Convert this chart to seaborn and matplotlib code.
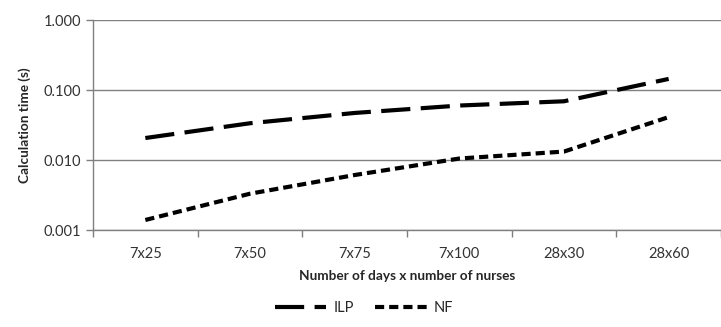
import matplotlib
matplotlib.use("Agg")
import matplotlib.pyplot as plt
import seaborn as sns
import pandas as pd
import numpy as np

categories = ["7x25", "7x50", "7x75", "7x100", "28x30", "28x60"]
ilp = [0.0206, 0.0335, 0.047, 0.060, 0.069, 0.144]
nf = [0.00139, 0.0033, 0.0061, 0.0105, 0.0132, 0.041]

sns.set_theme(style="white")
plt.rcParams['font.family'] = ['Lato', 'DejaVu Sans']

df = pd.DataFrame({
    "x": list(range(len(categories))) * 2,
    "value": ilp + nf,
    "series": ["ILP"] * len(ilp) + ["NF"] * len(nf),
})

fig = plt.figure(figsize=(7.21, 3.27), dpi=100)
ax = fig.add_axes([93/721, 1-230/327, 1-93/721, 210/327])

sns.lineplot(data=df, x="x", y="value", hue="series", style="series",
             palette={"ILP": "black", "NF": "black"},
             dashes={"ILP": (7, 2.5), "NF": (2.2, 1.2)},
             linewidth=3, ax=ax, legend=False)

ax.set_yscale("log")
ax.set_ylim(0.001, 1.0)
ax.set_xlim(-0.5, 5.5)
ax.set_yticks([0.001, 0.01, 0.1, 1.0])
ax.set_yticklabels(["0.001", "0.010", "0.100", "1.000"])
ax.yaxis.set_minor_locator(matplotlib.ticker.NullLocator())
ax.set_xticks(range(len(categories)))
ax.set_xticklabels(categories)
ax.set_xticks(np.arange(-0.5, 5.6, 1.0), minor=True)
ax.tick_params(axis="x", which="major", length=0, pad=12, labelsize=10.5, colors="#333333")
ax.tick_params(axis="x", which="minor", length=5, width=1, color="#7f7f7f", direction="out", bottom=True)
ax.tick_params(axis="y", which="major", length=5, width=1, color="#7f7f7f", direction="out", left=True, labelsize=10.5, colors="#333333")
ax.grid(axis="y", color="#808080", linewidth=1)
ax.set_axisbelow(True)
for s in ["top", "right"]:
    ax.spines[s].set_visible(False)
for s in ["left", "bottom"]:
    ax.spines[s].set_color("#808080")
    ax.spines[s].set_linewidth(1)

ax.set_xlabel("Number of days x number of nurses", fontsize=9.8, fontweight="bold", labelpad=7)
ax.set_ylabel("Calculation time (s)", fontsize=9.8, fontweight="bold", labelpad=9)

from matplotlib.lines import Line2D
handles = [Line2D([], [], color="black", lw=3, dashes=(7, 2.5)),
           Line2D([], [], color="black", lw=3, dashes=(2.2, 1.2))]
fig.legend(handles, ["ILP", "NF"], loc="center", bbox_to_anchor=(0.505, 1-308/327),
           ncol=2, frameon=False, fontsize=10.5, handlelength=3.5, columnspacing=1.5,
           handletextpad=0.5)

fig.savefig("out.png", dpi=100)
